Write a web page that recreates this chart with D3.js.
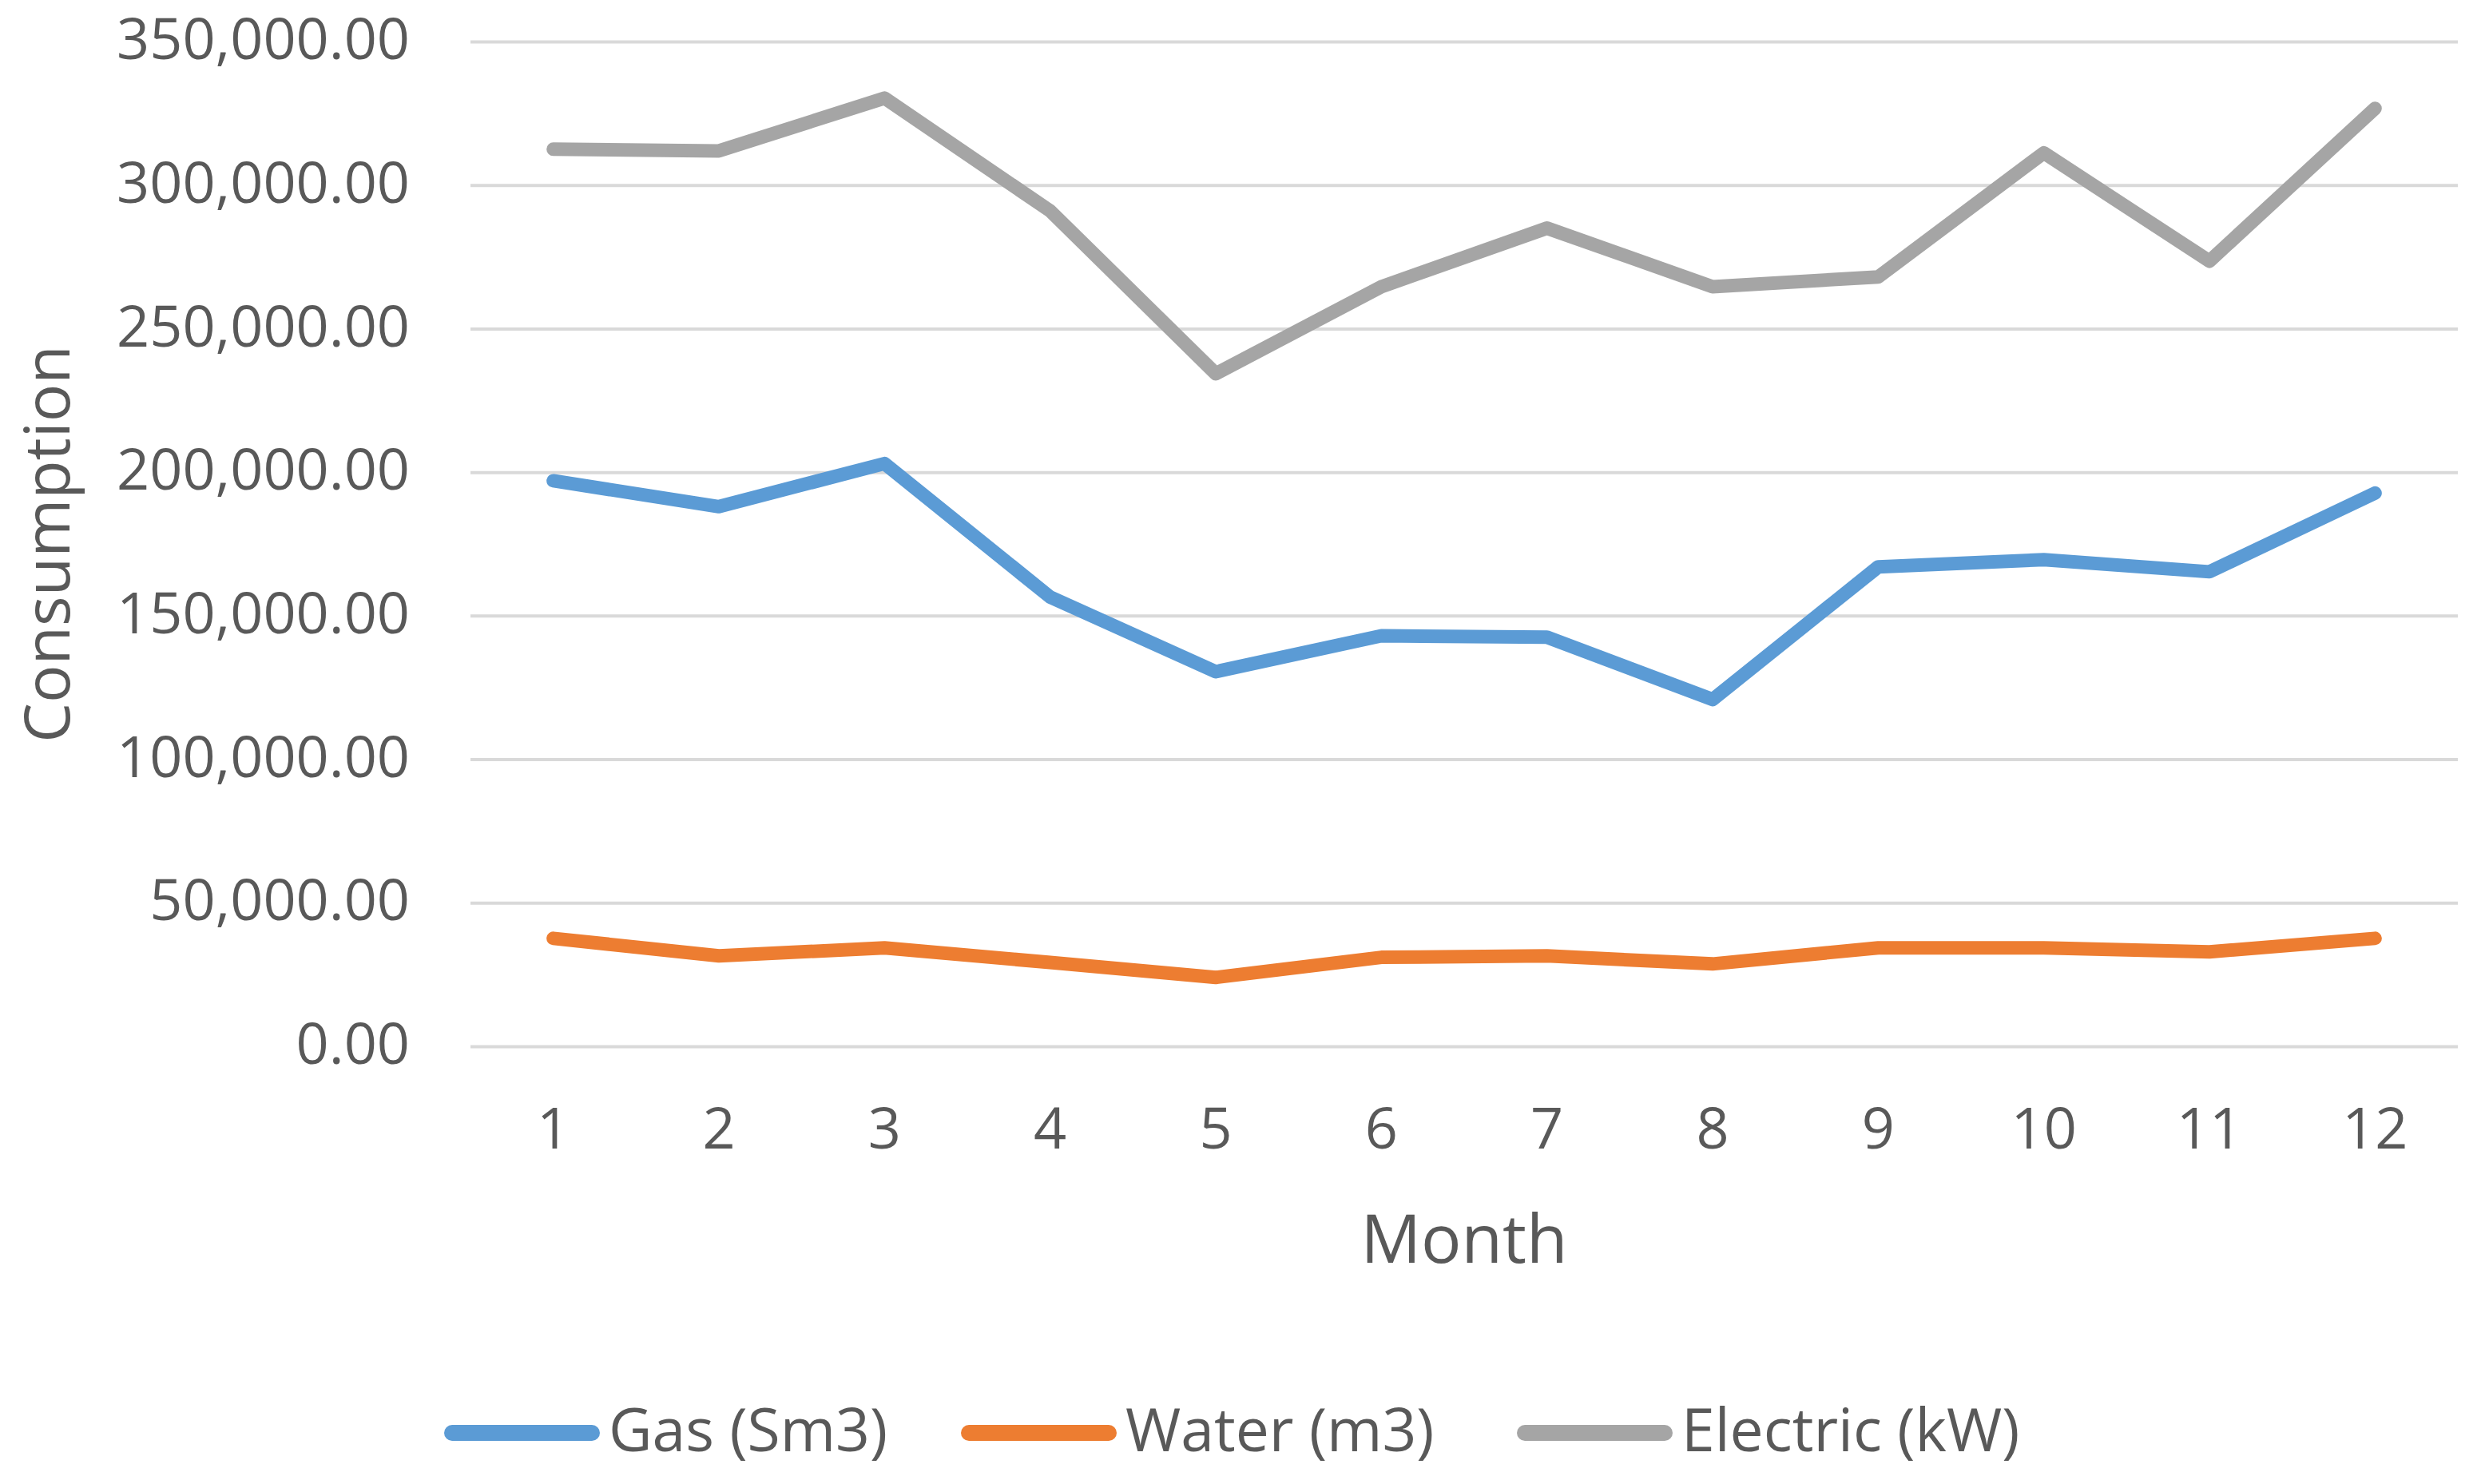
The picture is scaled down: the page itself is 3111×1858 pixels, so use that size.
<!DOCTYPE html>
<html>
<head>
<meta charset="utf-8">
<script src="https://cdn.jsdelivr.net/npm/d3@7/dist/d3.min.js"></script>
<style>
  html, body { margin: 0; padding: 0; background: #fff; }
  svg { display: block; font-family: "Open Sans", sans-serif; }
</style>
</head>
<body>
<svg id="chart" width="3111" height="1858"></svg>
<script>
'use strict';

// Values, one entry per month.
var months = [1, 2, 3, 4, 5, 6, 7, 8, 9, 10, 11, 12];
var gas = [197000, 188000, 203000, 156500, 130500, 143000, 142500, 120800, 167000, 169500, 165300, 192700];
var water = [37600, 31500, 34300, 29200, 24000, 31000, 31500, 28700, 34300, 34300, 32900, 37600];
var electric = [312500, 311900, 330300, 291000, 234300, 264600, 285000, 264600, 268000, 311200, 273500, 326700];
var yTicks = [0, 50000, 100000, 150000, 200000, 250000, 300000, 350000];

var seriesNames = ['Gas (Sm3)', 'Water (m3)', 'Electric (kW)'];
var seriesValues = [gas, water, electric];
var seriesColors = ['#5b9bd5', '#ed7d31', '#a5a5a5'];

var FONT = '"Open Sans", sans-serif';

var svg = d3.select('#chart');
var plot = { left: 589, right: 3077, top: 52, bottom: 1310 };

var x = d3.scaleBand()
    .domain(months)
    .range([plot.left, plot.right]);

var y = d3.scaleLinear()
    .domain([0, 350000])
    .range([plot.bottom, plot.top]);

var fmt = d3.format(',.2f');

/* gridlines + y labels, via an axis so the ticks come from the scale */
var yAxis = svg.append('g')
    .attr('transform', 'translate(' + plot.left + ',0)')
    .call(d3.axisLeft(y).tickValues(yTicks).tickFormat(fmt)
      .tickSize(-(plot.right - plot.left)).tickPadding(76))
    .attr('font-family', FONT);

yAxis.select('.domain').remove();
yAxis.selectAll('.tick line')
    .attr('stroke', '#d9d9d9')
    .attr('stroke-width', 4);
yAxis.selectAll('.tick text')
    .attr('fill', '#595959')
    .attr('font-size', 72)
    .attr('dy', '0.3em');

/* month labels under the plot */
var xAxis = svg.append('g')
    .attr('transform', 'translate(0,' + plot.bottom + ')')
    .call(d3.axisBottom(x).tickSize(0).tickPadding(0))
    .attr('font-family', FONT);

xAxis.select('.domain').remove();
xAxis.selectAll('.tick text')
    .attr('fill', '#595959')
    .attr('font-size', 72)
    .attr('dy', 0)
    .attr('y', 128);

/* the three series */
var line = d3.line()
    .x(function(d, i) { return x(months[i]) + x.bandwidth() / 2; })
    .y(function(d) { return y(d); });

svg.append('g')
  .selectAll('path')
  .data(seriesValues)
  .join('path')
    .attr('d', line)
    .attr('fill', 'none')
    .attr('stroke', function(d, i) { return seriesColors[i]; })
    .attr('stroke-width', 17)
    .attr('stroke-linejoin', 'round')
    .attr('stroke-linecap', 'round');

/* axis titles */
svg.append('text')
    .attr('x', (plot.left + plot.right) / 2)
    .attr('y', 1581)
    .attr('text-anchor', 'middle')
    .attr('fill', '#595959')
    .attr('font-size', 84)
    .text('Month');

svg.append('text')
    .attr('transform', 'translate(87,' + (plot.top + plot.bottom) / 2 + ') rotate(-90)')
    .attr('text-anchor', 'middle')
    .attr('fill', '#595959')
    .attr('font-size', 79)
    .text('Consumption');

/* legend */
var legendX = [558, 1205, 1901];
var legend = svg.append('g')
  .selectAll('g')
  .data(seriesNames)
  .join('g')
    .attr('transform', function(d, i) { return 'translate(' + legendX[i] + ',1794)'; });

legend.append('line')
    .attr('x1', 8).attr('x2', 183)
    .attr('stroke', function(d, i) { return seriesColors[i]; })
    .attr('stroke-width', 20)
    .attr('stroke-linecap', 'round');

legend.append('text')
    .attr('x', 204)
    .attr('y', 23)
    .attr('fill', '#595959')
    .attr('font-size', 75)
    .text(function(d) { return d; });
</script>
</body>
</html>
